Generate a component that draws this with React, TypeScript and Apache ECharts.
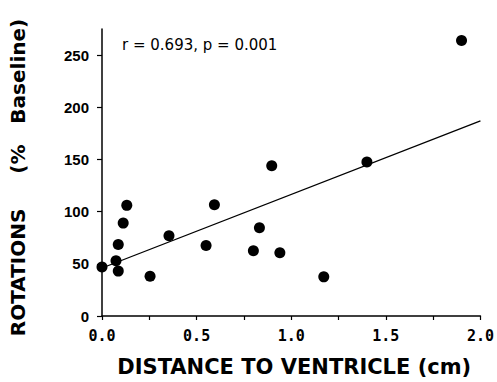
import React, { useEffect, useRef } from "react";
import * as echarts from "echarts";

const distance = [0.0, 0.074, 0.086, 0.086, 0.112, 0.131, 0.254, 0.354, 0.55, 0.594, 0.8, 0.832, 0.897, 0.94, 1.172, 1.4, 1.9];
const rotations = [47, 53, 43, 68.5, 89, 106, 38, 77, 67.5, 106.5, 62.5, 84.5, 144, 60.5, 37.5, 147.5, 264];
const fitX = [0, 2.0];
const fitY = [46, 187];
const yTicks = [0, 50, 100, 150, 200, 250];
const xLabels = [0, 0.5, 1.0, 1.5, 2.0];
const xTicks = [0, 0.25, 0.5, 0.75, 1.0, 1.25, 1.5, 1.75, 2.0];
const annotation = "r = 0.693, p = 0.001";
const xName = "DISTANCE TO VENTRICLE (cm)";
const yName = "ROTATIONS     (%   Baseline)";

export default function App() {
  const ref = useRef<HTMLDivElement>(null);
  useEffect(() => {
    if (!ref.current) return;
    const chart = echarts.init(ref.current, null, { renderer: "svg" });
    chart.setOption({
      animation: false,
      backgroundColor: "#ffffff",
      grid: { left: 101, right: 15.3, top: 29, bottom: 65.3 },
      xAxis: {
        type: "value",
        min: 0,
        max: 2,
        interval: 0.25,
        name: xName,
        nameLocation: "middle",
        nameGap: 40,
        nameTextStyle: { fontFamily: "DejaVu Sans", fontWeight: "bold", fontSize: 21, color: "#000", padding: [0, 0, 0, 6] },
        axisLine: { show: true, onZero: false, lineStyle: { color: "#000", width: 1.5 } },
        axisTick: { show: true, length: 4, customValues: xTicks, lineStyle: { color: "#000", width: 1.2 } },
        axisLabel: {
          customValues: xLabels,
          margin: 12,
          formatter: (v: number) => v.toFixed(1),
          fontFamily: "DejaVu Sans Mono",
          fontWeight: "bold",
          fontSize: 15,
          color: "#000",
        },
        splitLine: { show: false },
      },
      yAxis: {
        type: "value",
        min: 0,
        max: 275,
        interval: 25,
        name: yName,
        nameLocation: "middle",
        nameGap: 74,
        nameTextStyle: { fontFamily: "DejaVu Sans", fontWeight: "bold", fontSize: 20, color: "#000", padding: [0, 10, 0, 0] },
        axisLine: { show: true, onZero: false, lineStyle: { color: "#000", width: 1.5 } },
        axisTick: { show: true, length: 5, customValues: yTicks, lineStyle: { color: "#000", width: 1.2 } },
        axisLabel: {
          customValues: yTicks,
          margin: 13,
          fontFamily: "Liberation Sans",
          fontWeight: "bold",
          fontSize: 15,
          color: "#000",
        },
        splitLine: { show: false },
      },
      graphic: [
        {
          type: "text",
          left: 122,
          top: 37,
          style: { text: annotation, font: "15px 'DejaVu Sans'", fill: "#000" },
        },
      ],
      series: [
        {
          type: "line",
          data: fitX.map((x, i) => [x, fitY[i]]),
          showSymbol: false,
          lineStyle: { color: "#000", width: 1.3 },
          silent: true,
          z: 1,
        },
        {
          type: "scatter",
          data: distance.map((x, i) => [x, rotations[i]]),
          symbol: "circle",
          symbolSize: 11,
          itemStyle: { color: "#000", opacity: 1 },
          z: 2,
        },
      ],
    });
    return () => chart.dispose();
  }, []);
  return <div ref={ref} style={{ width: 497, height: 382, position: "absolute", left: 0, top: 0 }} />;
}
